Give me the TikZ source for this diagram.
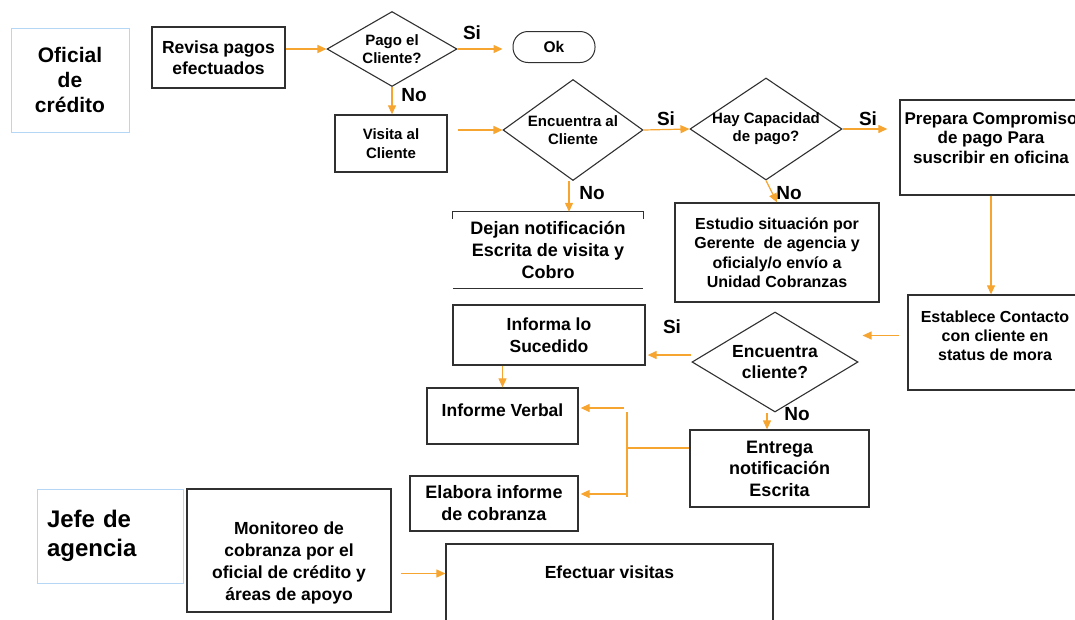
\documentclass[tikz,border=0pt]{standalone}
\usepackage{fontspec}
\setmainfont{Liberation Sans}
\usepackage{xcolor}
\usetikzlibrary{shapes.geometric,arrows.meta,positioning}
\definecolor{floworange}{HTML}{F7A531}
\definecolor{laneblue}{HTML}{B5D6F5}
\definecolor{boxgray}{HTML}{303030}

\begin{document}
\begin{tikzpicture}[
    x=1pt,y=-1pt,
    >={Triangle[length=9pt,width=8pt]},
    lane/.style={rectangle,draw=laneblue,line width=0.9pt,align=center,font=\bfseries\fontsize{21}{25}\selectfont},
    box/.style={rectangle,draw=boxgray,line width=1.3pt,align=center,font=\bfseries\fontsize{17.5}{21.5}\selectfont},
    boxtext/.style={align=center,font=\bfseries\fontsize{17.5}{21.5}\selectfont},
    decision/.style={diamond,draw=boxgray,line width=1.1pt,align=center,inner sep=0pt,font=\bfseries\fontsize{15}{18}\selectfont},
    answer/.style={font=\bfseries\fontsize{19}{22}\selectfont},
    flow/.style={->,draw=floworange,line width=1.2pt},
    flowline/.style={draw=floworange,line width=1.2pt}
]
\useasboundingbox (0,0) rectangle (1075,619);

% lanes
\node[lane,minimum width=118pt,minimum height=104pt] (oficial) at (70,80) {Oficial\\de\\crédito};
\node[lane,minimum width=146pt,minimum height=94pt,font=\bfseries\fontsize{24}{29}\selectfont,text width=126pt,inner xsep=10pt,align=left] (jefe) at (110,536) {Jefe de\\agencia};

% first row
\node[box,minimum width=133pt,minimum height=61pt] (revisa) at (218.5,57.5) {Revisa pagos\\efectuados};
\node[decision,shape aspect=1.73,minimum width=130pt,minimum height=75pt] (pago) at (392,49) {Pago el\\Cliente?};
\node[box,rounded corners=15pt,line width=1pt,minimum width=82pt,minimum height=31pt,font=\bfseries\fontsize{15.5}{17}\selectfont] (ok) at (554,47) {Ok};

% second row
\node[box,minimum width=112pt,minimum height=57pt,font=\bfseries\fontsize{15}{18.5}\selectfont] (visita) at (391,143.5) {Visita al\\Cliente};
\node[decision,shape aspect=1.39,minimum width=140pt,minimum height=101pt] (encuentra) at (573,130) {Encuentra al\\Cliente};
\node[decision,shape aspect=1.5,inner xsep=-8pt,minimum width=152pt,minimum height=102pt] (capacidad) at (766,129) {Hay Capacidad\\de pago?};
\node[box,minimum width=182pt,minimum height=95pt] (prepara) at (991,147.5) {};
\node[boxtext,font=\bfseries\fontsize{17}{19.5}\selectfont,below=9pt of prepara.north] (preparatext) {Prepara Compromiso\\de pago Para\\suscribir en oficina};

% third row
\node[boxtext,font=\bfseries\fontsize{18}{22}\selectfont,minimum width=190pt,minimum height=76pt] (dejan) at (548,250) {Dejan notificación\\Escrita de visita y\\Cobro};
\node[box,minimum width=204pt,minimum height=99pt,font=\bfseries\fontsize{16}{19.5}\selectfont] (estudio) at (777,252.5) {Estudio situación por\\Gerente\ \ de agencia y\\oficialy/o envío a\\Unidad Cobranzas};
\node[box,minimum width=174pt,minimum height=95pt] (establece) at (995,342.5) {};
\node[boxtext,font=\bfseries\fontsize{16}{19}\selectfont,below=13pt of establece.north] (establecetext) {Establece Contacto\\con cliente en\\status de mora};

% fourth row
\node[box,minimum width=192pt,minimum height=60pt] (informa) at (549,335) {Informa lo\\Sucedido};
\node[decision,shape aspect=1.66,minimum width=166pt,minimum height=100pt,font=\bfseries\fontsize{17.5}{21}\selectfont] (encli) at (775,362) {Encuentra\\cliente?};
\node[box,minimum width=151pt,minimum height=56pt] (verbal) at (502.5,416) {};
\node[boxtext,below=13pt of verbal.north] (verbaltext) {Informe Verbal};
\node[box,minimum width=179pt,minimum height=77pt,font=\bfseries\fontsize{18}{21.5}\selectfont] (entrega) at (779.5,468.5) {Entrega\\notificación\\Escrita};
\node[box,minimum width=168pt,minimum height=55pt,font=\bfseries\fontsize{18}{22}\selectfont] (elabora) at (494,503.5) {Elabora informe\\de cobranza};

% jefe de agencia row
\node[box,minimum width=204pt,minimum height=123pt] (monitoreo) at (289,550.5) {};
\node[boxtext,font=\bfseries\fontsize{17.5}{22}\selectfont,below=30pt of monitoreo.north] (monitoreotext) {Monitoreo de\\cobranza por el\\oficial de crédito y\\áreas de apoyo};
\node[box,minimum width=327pt,minimum height=96pt] (efectuar) at (609.5,592) {};
\node[boxtext,below=19pt of efectuar.north] (efectuartext) {Efectuar visitas};

% open box of dejan
\draw[boxgray,line width=1.3pt] ([yshift=-7pt]dejan.north west) -- (dejan.north west) -- (dejan.north east) -- ([yshift=-7pt]dejan.north east);
\draw[boxgray,line width=1.3pt] (dejan.south west) -- (dejan.south east);

% connectors
\draw[flow] (revisa.east |- pago.west) -- (pago.west);
\draw[flow,shorten >=10pt] (pago.east) -- (pago.east -| ok.west);
\draw[flow] (pago.south) -- (pago.south |- visita.north);
\draw[flow,shorten <=10pt] (visita.east |- encuentra.west) -- (encuentra.west);
\draw[flow] (encuentra.east) -- (capacidad.west);
\draw[flow,shorten >=12pt] (capacidad.east) -- (capacidad.east -| prepara.west);
\draw[flow] (capacidad.south) -- (estudio.north);
\draw[flow] ([xshift=-4pt]encuentra.south) -- ([xshift=-4pt]encuentra.south |- dejan.north);
\draw[flow] (prepara.south) -- (prepara.south |- establece.north);
\draw[flow,shorten <=8pt,shorten >=4pt] ([yshift=7pt]establece.west) -- ([yshift=7pt]establece.west -| encli.east);
\draw[flow,shorten >=2pt] ([yshift=7pt]encli.west) -- ([yshift=7pt]encli.west -| informa.east);
\draw[flow] ([xshift=-8pt]encli.south) -- ([xshift=-8pt]encli.south |- entrega.north);
\draw[flow] (verbal.north |- informa.south) -- (verbal.north);

\coordinate (junction) at (627,448);
\draw[flowline] (entrega.west |- junction) -- (junction);
\draw[flowline] ([yshift=36pt]junction) -- ([yshift=-49pt]junction);
\draw[flow,shorten >=2pt] ([xshift=-3pt,yshift=40pt]junction) -- ([yshift=40pt]junction -| verbal.east);
\draw[flow,shorten >=2pt] ([yshift=-46pt]junction) -- ([yshift=-46pt]junction -| elabora.east);
\draw[flow,shorten <=9pt] ([yshift=-23pt]monitoreo.east) -- ([yshift=-23pt]monitoreo.east -| efectuar.west);

% answers
\node[answer] (pagosi) at (472,33) {Si};
\node[answer] (pagono) at (414,95) {No};
\node[answer] (encuentrasi) at (666,119) {Si};
\node[answer] (encuentrano) at (592,193) {No};
\node[answer] (capacidadsi) at (868,119) {Si};
\node[answer] (capacidadno) at (789,193) {No};
\node[answer] (enclisi) at (672,327) {Si};
\node[answer] (enclino) at (797,414) {No};
\end{tikzpicture}
\end{document}
